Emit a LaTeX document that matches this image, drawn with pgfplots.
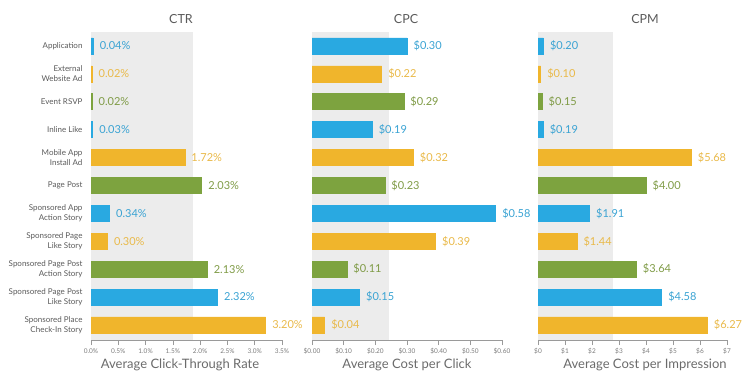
\documentclass[border=0pt]{standalone}
\usepackage{pgfplots}
\pgfplotsset{compat=1.18}
\usepackage{fontspec}
\setmainfont{Lato}
\definecolor{cblue}{HTML}{29A9E1}
\definecolor{cyellow}{HTML}{F0B52C}
\definecolor{cgreen}{HTML}{7DA33F}
\definecolor{tblue}{HTML}{3AA3D3}
\definecolor{tyellow}{HTML}{E9B949}
\definecolor{tgreen}{HTML}{7F9B46}
\definecolor{cshade}{HTML}{ECECEC}
\definecolor{txt}{HTML}{5A5A5A}
\definecolor{axc}{HTML}{9A9A9A}
\begin{document}
\begin{tikzpicture}[x=1pt,y=1pt]
\useasboundingbox (0,0) rectangle (752,381);
\pgfplotsset{
 base/.style={
  scale only axis, height=308pt,
  ymin=-0.54, ymax=10.5,
  axis x line*=bottom, axis y line*=left,
  axis line style={draw=axc, line width=0.6pt},
  xbar, bar width=16pt, bar shift=0pt,
  ytick={0,...,10},
  y tick style={draw=none},
  x tick style={draw=axc, line width=0.5pt},
  tick align=outside, major tick length=5pt,
  xticklabel style={font=\fontsize{6.5}{7.5}\selectfont, text=txt!80},
  yticklabel style={font=\fontsize{8}{10}\selectfont, text=txt, align=right},
  /pgf/number format/assume math mode=true,
  point meta=x,
  nodes near coords style={font=\fontsize{11}{12}\selectfont, anchor=west, xshift=3pt},
  clip=false,
 },
 pb/.style={fill=cblue, draw=cblue, line width=0.6pt, every node near coord/.append style={text=tblue}},
 py/.style={fill=cyellow, draw=cyellow, line width=0.6pt, every node near coord/.append style={text=tyellow}},
 pg/.style={fill=cgreen, draw=cgreen, line width=0.6pt, every node near coord/.append style={text=tgreen}},
}
% CTR
\begin{axis}[base, at={(91pt,41pt)}, anchor=south west, width=191pt,
  xmin=0, xmax=3.5, xtick={0,0.5,...,3.5},
  xticklabels={0.0\%,0.5\%,1.0\%,1.5\%,2.0\%,2.5\%,3.0\%,3.5\%},
  yticklabels={Sponsored Place\\Check-In Story, Sponsored Page Post\\Like Story, Sponsored Page Post\\Action Story, Sponsored Page\\Like Story, Sponsored App\\Action Story, Page Post, Mobile App\\Install Ad, Inline Like, Event RSVP, External\\Website Ad, Application},
  nodes near coords={\pgfmathprintnumber[fixed,fixed zerofill,precision=2]{\pgfplotspointmeta}\%}]
\fill[cshade] (axis cs:0,-0.54) rectangle (axis cs:1.86,10.5);
\addplot[pb] coordinates {(0.04,10) (0.03,7) (0.34,4) (2.32,1)};
\addplot[py] coordinates {(0.02,9) (1.72,6) (0.30,3) (3.20,0)};
\addplot[pg] coordinates {(0.02,8) (2.03,5) (2.13,2)};
\end{axis}
% CPC
\begin{axis}[base, at={(312pt,41pt)}, anchor=south west, width=190pt,
  xmin=0, xmax=0.6, xtick={0,0.1,...,0.6},
  xticklabels={\$0.00,\$0.10,\$0.20,\$0.30,\$0.40,\$0.50,\$0.60},
  yticklabels={},
  nodes near coords={\$\pgfmathprintnumber[fixed,fixed zerofill,precision=2]{\pgfplotspointmeta}}]
\fill[cshade] (axis cs:0,-0.54) rectangle (axis cs:0.243,10.5);
\addplot[pb] coordinates {(0.30,10) (0.19,7) (0.58,4) (0.15,1)};
\addplot[py] coordinates {(0.22,9) (0.32,6) (0.39,3) (0.04,0)};
\addplot[pg] coordinates {(0.29,8) (0.23,5) (0.11,2)};
\end{axis}
% CPM
\begin{axis}[base, at={(538pt,41pt)}, anchor=south west, width=189pt,
  xmin=0, xmax=7, xtick={0,1,...,7},
  xticklabels={\$0,\$1,\$2,\$3,\$4,\$5,\$6,\$7},
  yticklabels={},
  nodes near coords={\$\pgfmathprintnumber[fixed,fixed zerofill,precision=2]{\pgfplotspointmeta}}]
\fill[cshade] (axis cs:0,-0.54) rectangle (axis cs:2.78,10.5);
\addplot[pb] coordinates {(0.20,10) (0.19,7) (1.91,4) (4.58,1)};
\addplot[py] coordinates {(0.10,9) (5.68,6) (1.44,3) (6.27,0)};
\addplot[pg] coordinates {(0.15,8) (4.00,5) (3.64,2)};
\end{axis}
\node[text=txt, font=\fontsize{12.5}{14}\selectfont] at (181,362) {CTR};
\node[text=txt, font=\fontsize{12.5}{14}\selectfont] at (406,362) {CPC};
\node[text=txt, font=\fontsize{12.5}{14}\selectfont] at (645,362) {CPM};
\node[text=txt!90, font=\fontsize{13}{15}\selectfont] at (180,16) {Average Click-Through Rate};
\node[text=txt!90, font=\fontsize{13}{15}\selectfont] at (407,16) {Average Cost per Click};
\node[text=txt!90, font=\fontsize{13}{15}\selectfont] at (645,16) {Average Cost per Impression};
\end{tikzpicture}
\end{document}
